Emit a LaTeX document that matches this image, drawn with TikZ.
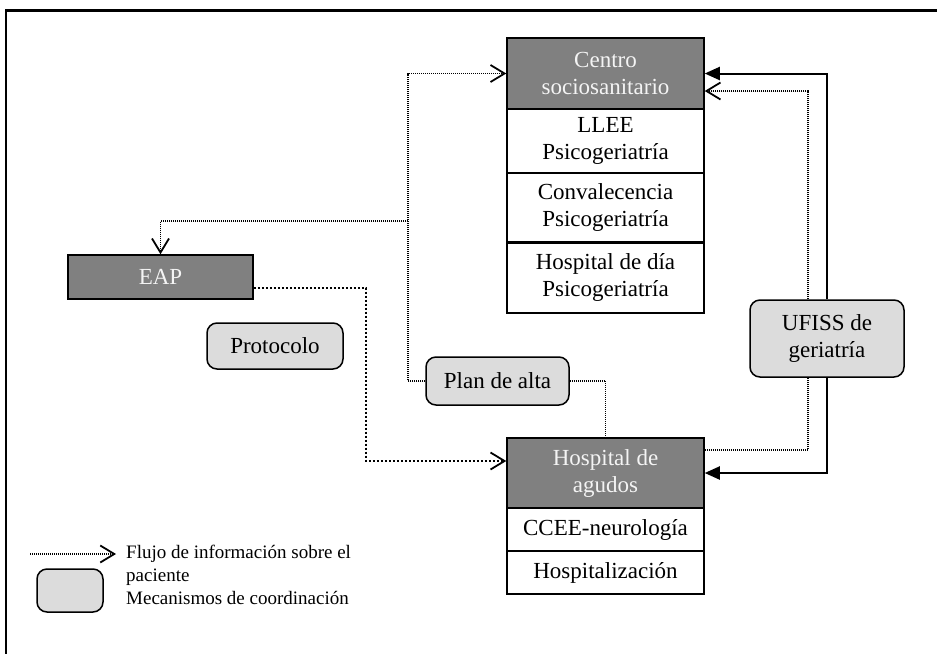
\documentclass[tikz,border=0pt]{standalone}
\usepackage{fontspec}
\setmainfont{Liberation Serif}
\usetikzlibrary{arrows.meta,calc}
\definecolor{hdrgray}{HTML}{808080}
\definecolor{mechgray}{HTML}{DCDCDC}
\definecolor{hdrtext}{HTML}{F4F4F4}
\begin{document}
\begin{tikzpicture}[x=1pt,y=-1pt,
 box/.style={draw=black,line width=1.5pt,minimum width=197pt,inner sep=0pt,align=center,font=\fontsize{23}{27}\selectfont},
 hdr/.style={box,fill=hdrgray,text=hdrtext},
 sub/.style={box,fill=white},
 mech/.style={draw=black,line width=1.5pt,rounded corners=10pt,fill=mechgray,inner sep=0pt,align=center,font=\fontsize{23}{27}\selectfont},
 thinfo/.style={line width=1.2pt,dash pattern=on 1pt off 1pt},
 thickinfo/.style={line width=2pt,dash pattern=on 2pt off 2pt},
 opentip/.style={-{Straight Barb[length=14pt,width=17pt,line width=1.8pt]}},
 solidtip/.style={-{Triangle[length=15pt,width=13pt]}}
]
\useasboundingbox (0,0) rectangle (937,654);
% frame
\draw[line width=3pt] (5,10) -- (937,10);
\draw[line width=2.5pt] (6,10) -- (6,654);

% Centro sociosanitario stack
\node[hdr,minimum height=71pt] (centro) at (605.5,73.5) {Centro\\sociosanitario};
\node[sub,minimum height=64pt] (llee) at (605.5,141) {LLEE\\Psicogeriatría};
\node[sub,minimum height=69pt] (conv) at (605.5,207.5) {Convalecencia\\Psicogeriatría};
\node[sub,minimum height=71pt] (hdia) at (605.5,277.5) {Hospital de día\\Psicogeriatría};
\draw[line width=3pt] (conv.south west) -- (conv.south east);

% Hospital de agudos stack
\node[hdr,minimum height=70pt] (hosp) at (605.5,473) {Hospital de\\agudos};
\node[sub,minimum height=43pt] (ccee) at (605.5,529.5) {CCEE-neurología};
\node[sub,minimum height=43pt] (hospz) at (605.5,572.5) {Hospitalización};

% EAP
\node[hdr,minimum width=185pt,minimum height=44pt] (eap) at (160.5,277) {EAP};

% coordination mechanisms
\node[mech,minimum width=154pt,minimum height=77pt] (ufiss) at (827,338.5) {UFISS de\\geriatría};
\node[mech,minimum width=143pt,minimum height=48pt] (plan) at (497.5,381) {Plan de alta};
\node[mech,minimum width=136pt,minimum height=46pt] (proto) at (275,346) {Protocolo};

% connectors
\coordinate (vx) at (408,221);
\draw[thinfo,opentip] (plan.west) -| (vx |- centro.west) -- (centro.west);
\draw[thinfo,opentip] (vx) -| (eap.north);
\draw[thickinfo,opentip] ($(eap.east)+(0,11)$) -| ($(hosp.west)+(-140,-12)$) -- ($(hosp.west)+(0,-12)$);
\draw[thinfo] (plan.east) -| (hosp.north);
\draw[thinfo] ($(hosp.east)+(0,-23)$) -| ($(ufiss.south)+(-19,0)$);
\draw[thinfo,opentip] ($(ufiss.north)+(-19,0)$) |- ($(centro.east)+(0,17.5)$);
\draw[line width=2pt,solidtip] (ufiss.north) |- (centro.east);
\draw[line width=2pt,solidtip] (ufiss.south) |- (hosp.east);

% legend
\coordinate (la) at (30,554);
\coordinate (lb) at (116,554);
\draw[thinfo,opentip] (la) -- (lb);
\node[mech,minimum width=66pt,minimum height=43pt] (legbox) at (70,590.5) {};
\node[anchor=west,align=left,inner sep=0pt,font=\fontsize{19}{23}\selectfont] (legtxt) at (126,575) {Flujo de información sobre el\\paciente\\Mecanismos de coordinación};
\end{tikzpicture}
\end{document}
